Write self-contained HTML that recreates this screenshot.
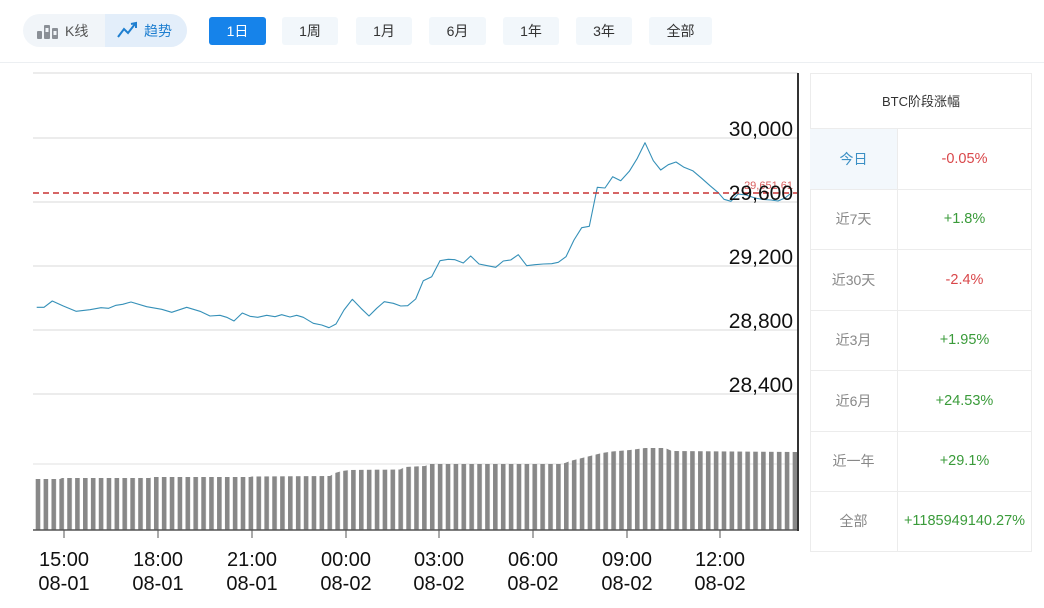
<!DOCTYPE html>
<html><head><meta charset="utf-8">
<style>
*{margin:0;padding:0;box-sizing:border-box}
html,body{width:1044px;height:608px;background:#fff;overflow:hidden}
body{position:relative;font-family:"Liberation Sans","Noto Sans CJK SC",sans-serif}
.abs{position:absolute}
.btn{position:absolute;top:17px;height:28px;line-height:28px;text-align:center;font-size:14px;color:#333;background:#f2f7fb;border-radius:3px}
.cell{position:absolute;display:flex;align-items:center;justify-content:center;font-size:14px}
.v{font-size:14.5px}
</style></head><body>

<!-- segmented control -->
<div class="abs" style="left:23px;top:14px;width:164px;height:33px;border-radius:17px;background:#f1f5f9"></div>
<div class="abs" style="left:105px;top:14px;width:82px;height:33px;border-radius:0 17px 17px 0;background:#e3eefa"></div>
<svg class="abs" style="left:36px;top:22px" width="24" height="18" viewBox="0 0 24 18">
  <rect x="1" y="9" width="5" height="8" rx="1" fill="#8a8f96"/>
  <rect x="8" y="3" width="6" height="14" rx="1" fill="#8a8f96"/>
  <rect x="16" y="6" width="6" height="11" rx="1" fill="#8a8f96"/>
  <rect x="9.5" y="6" width="3" height="4" fill="#f1f5f9"/>
  <rect x="17.5" y="9" width="3" height="4" fill="#f1f5f9"/>
</svg>
<div class="abs" style="left:65px;top:22px;font-size:14px;color:#555;line-height:18px">K线</div>
<svg class="abs" style="left:116px;top:21px" width="24" height="18" viewBox="0 0 24 18">
  <polyline points="2,16 8,8 12,12 19,3" fill="none" stroke="#1f7fd0" stroke-width="2"/>
  <polyline points="15,3 20,2 20,7" fill="none" stroke="#1f7fd0" stroke-width="2"/>
</svg>
<div class="abs" style="left:144px;top:22px;font-size:14px;color:#1f7fd0;line-height:18px">趋势</div>

<div class="btn" style="left:209px;width:57px;background:#1683ea;color:#fff">1日</div>
<div class="btn" style="left:282px;width:56px">1周</div>
<div class="btn" style="left:356px;width:56px">1月</div>
<div class="btn" style="left:429px;width:57px">6月</div>
<div class="btn" style="left:503px;width:56px">1年</div>
<div class="btn" style="left:576px;width:56px">3年</div>
<div class="btn" style="left:649px;width:63px">全部</div>

<div class="abs" style="left:0;top:62px;width:1044px;height:1px;background:#eceff2"></div>

<!-- chart -->
<svg class="abs" style="left:0;top:0" width="1044" height="608" viewBox="0 0 1044 608">
  <defs>
    <pattern id="bars" patternUnits="userSpaceOnUse" x="35.7" y="0" width="7.885" height="608">
      <rect x="0" y="0" width="4.6" height="608" fill="#888"/>
    </pattern>
  </defs>
  <g stroke="#e6e6e6" stroke-width="1.5">
    <line x1="33" y1="73" x2="798" y2="73"/>
    <line x1="33" y1="138" x2="798" y2="138"/>
    <line x1="33" y1="202" x2="798" y2="202"/>
    <line x1="33" y1="266" x2="798" y2="266"/>
    <line x1="33" y1="330" x2="798" y2="330"/>
    <line x1="33" y1="394" x2="798" y2="394"/>
    <line x1="33" y1="464" x2="798" y2="464" stroke="#ececec"/>
  </g>
  <!-- volume bars -->
  <path fill="url(#bars)" d="M35,530 L35,479 L60,479 L62,478 L150,478 L152,477 L250,477 L252,476.5 L330,476 L335,473 L342,471 L350,470 L400,469.5 L405,467 L425,466 L430,464 L560,464 L565,463 L570,461 L578,459 L586,457 L594,455 L602,453 L612,451.5 L630,450 L645,448 L665,448 L672,451 L797,452 L797,530 Z"/>
  <!-- axes -->
  <line x1="33" y1="530" x2="798" y2="530" stroke="#555" stroke-width="1.5"/>
  <line x1="798" y1="73" x2="798" y2="531" stroke="#333" stroke-width="2"/>
  <g stroke="#555" stroke-width="1">
    <line x1="64" y1="530" x2="64" y2="538"/>
    <line x1="158" y1="530" x2="158" y2="538"/>
    <line x1="252" y1="530" x2="252" y2="538"/>
    <line x1="346" y1="530" x2="346" y2="538"/>
    <line x1="439" y1="530" x2="439" y2="538"/>
    <line x1="533" y1="530" x2="533" y2="538"/>
    <line x1="627" y1="530" x2="627" y2="538"/>
    <line x1="720" y1="530" x2="720" y2="538"/>
  </g>
  <!-- price line -->
  <polyline fill="none" stroke="#3590b8" stroke-width="1.1" stroke-linejoin="round" points="36.7,307.3 44,307.3 52.3,301 63.3,306 76,311.3 90,309.7 101,307.7 108.7,308.3 116,305.3 122.7,304.3 131,302 146.7,306.7 161.7,309.3 171.7,312.3 186.7,307.3 200,311.3 210,316 220,315.3 226.7,317.3 234,321 242.3,313 250,316.3 257.7,317.3 266.7,315.3 275,316.7 281.7,314.7 290,317 296.7,315.3 303.3,317.3 313.3,323.3 321.7,325 329,327.7 336,324 344,310 352.3,299.3 361,308.3 369,316 376.7,308.3 384.3,301.7 393.3,303.3 400.7,306 407.7,305.7 415.7,299 423.3,280.7 431.7,276.7 440,260.7 448.3,259.3 455,259.7 463.3,263 470.7,256 479,264 487.3,265.7 495.7,267.3 503.3,261 510.7,260 518.3,254.7 526.7,265.7 535,264.7 543.3,264 551.7,263.7 558.3,262.3 566,256.7 574,240 581.7,227.7 589.3,226.3 597.3,187.3 605,188 612.7,176.7 620.7,180.7 629.3,171.3 637.3,158.3 645,142.7 653.3,160.7 660.7,170 668.3,164.7 676,162 684,167.3 692.7,170.7 701.7,178.3 710,185.7 718.3,192.7 724,199.3 731,201.3 738,194 746,195 755,198 763,199.5 771,200 778,201 785,198 790,194"/>
  <!-- reference dashed line -->
  <line x1="33" y1="193" x2="797" y2="193" stroke="#c83232" stroke-width="1.6" stroke-dasharray="6,4"/>
  <text x="793" y="189" text-anchor="end" font-family="Liberation Sans, sans-serif" font-size="11" fill="#d96060">29,651.61</text>
  <!-- y labels -->
  <g font-family="Liberation Sans, sans-serif" font-size="21" fill="#111" text-anchor="end">
    <text x="793" y="136">30,000</text>
    <text x="793" y="200">29,600</text>
    <text x="793" y="264">29,200</text>
    <text x="793" y="328">28,800</text>
    <text x="793" y="392">28,400</text>
  </g>
  <!-- x labels -->
  <g font-family="Liberation Sans, sans-serif" font-size="20" fill="#111" text-anchor="middle">
    <text x="64" y="566">15:00</text><text x="64" y="590">08-01</text>
    <text x="158" y="566">18:00</text><text x="158" y="590">08-01</text>
    <text x="252" y="566">21:00</text><text x="252" y="590">08-01</text>
    <text x="346" y="566">00:00</text><text x="346" y="590">08-02</text>
    <text x="439" y="566">03:00</text><text x="439" y="590">08-02</text>
    <text x="533" y="566">06:00</text><text x="533" y="590">08-02</text>
    <text x="627" y="566">09:00</text><text x="627" y="590">08-02</text>
    <text x="720" y="566">12:00</text><text x="720" y="590">08-02</text>
  </g>
</svg>

<!-- right table -->
<div class="abs" style="left:810px;top:73px;width:222px;height:479px;border:1px solid #ececec"></div>
<div class="abs" style="left:810px;top:128px;width:88px;height:61px;background:#f3f8fc"></div>
<div class="abs" style="left:897px;top:128px;width:1px;height:423px;background:#ececec"></div>
<div class="abs" style="left:810px;top:128px;width:222px;height:1px;background:#ececec"></div>
<div class="abs" style="left:810px;top:189px;width:222px;height:1px;background:#ececec"></div>
<div class="abs" style="left:810px;top:249px;width:222px;height:1px;background:#ececec"></div>
<div class="abs" style="left:810px;top:310px;width:222px;height:1px;background:#ececec"></div>
<div class="abs" style="left:810px;top:370px;width:222px;height:1px;background:#ececec"></div>
<div class="abs" style="left:810px;top:431px;width:222px;height:1px;background:#ececec"></div>
<div class="abs" style="left:810px;top:491px;width:222px;height:1px;background:#ececec"></div>

<div class="cell" style="left:810px;top:73px;width:222px;height:55px;font-size:13px;color:#333">BTC阶段涨幅</div>

<div class="cell" style="left:810px;top:128px;width:87px;height:61px;color:#3a8fc4">今日</div>
<div class="cell v" style="left:898px;top:128px;width:133px;height:61px;color:#d9474a">-0.05%</div>

<div class="cell" style="left:810px;top:189px;width:87px;height:60px;color:#888">近7天</div>
<div class="cell v" style="left:898px;top:189px;width:133px;height:60px;color:#3a9b3a">+1.8%</div>

<div class="cell" style="left:810px;top:249px;width:87px;height:61px;color:#888">近30天</div>
<div class="cell v" style="left:898px;top:249px;width:133px;height:61px;color:#d9474a">-2.4%</div>

<div class="cell" style="left:810px;top:310px;width:87px;height:60px;color:#888">近3月</div>
<div class="cell v" style="left:898px;top:310px;width:133px;height:60px;color:#3a9b3a">+1.95%</div>

<div class="cell" style="left:810px;top:370px;width:87px;height:61px;color:#888">近6月</div>
<div class="cell v" style="left:898px;top:370px;width:133px;height:61px;color:#3a9b3a">+24.53%</div>

<div class="cell" style="left:810px;top:431px;width:87px;height:60px;color:#888">近一年</div>
<div class="cell v" style="left:898px;top:431px;width:133px;height:60px;color:#3a9b3a">+29.1%</div>

<div class="cell" style="left:810px;top:491px;width:87px;height:60px;color:#888">全部</div>
<div class="cell v" style="left:898px;top:491px;width:133px;height:60px;color:#3a9b3a">+1185949140.27%</div>

</body></html>
